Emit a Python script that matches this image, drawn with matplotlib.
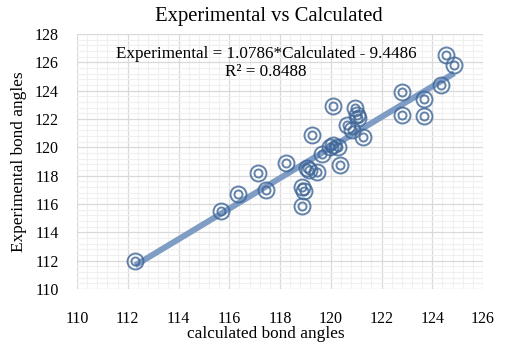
import matplotlib
matplotlib.use("Agg")
import matplotlib.pyplot as plt
from matplotlib.ticker import MultipleLocator
import numpy as np

calculated = [112.29, 115.66, 116.36, 117.15, 117.45, 118.24, 118.85, 118.85, 118.95,
              119.05, 119.15, 119.45, 120.36, 119.64, 119.97, 120.10, 120.30, 121.26,
              119.25, 120.63, 120.83, 120.96, 121.02, 121.09, 120.10, 122.80, 122.80,
              123.67, 123.67, 124.33, 124.53, 124.87]
experimental = [111.98, 115.53, 116.70, 118.21, 116.99, 118.87, 115.86, 117.22, 116.94,
                118.52, 118.40, 118.28, 118.75, 119.53, 120.04, 120.16, 120.04, 120.75,
                120.87, 121.57, 121.22, 122.75, 122.28, 122.05, 122.91, 123.92, 122.28,
                123.41, 122.21, 124.40, 126.51, 125.81]
slope = 1.0786
intercept = -9.4486
r2 = 0.8488

x_ticks = list(range(110, 127, 2))
y_ticks = list(range(110, 129, 2))

plt.rcParams['font.family'] = ['Liberation Serif', 'DejaVu Serif']

fig = plt.figure(figsize=(5.08, 3.52), dpi=100)
ax = fig.add_axes([77/508, 1-289/352, 406/508, 255/352])

ax.set_xlim(110, 126)
ax.set_ylim(110, 128)
ax.xaxis.set_minor_locator(MultipleLocator(0.4))
ax.yaxis.set_minor_locator(MultipleLocator(0.4))
ax.set_xticks(x_ticks)
ax.set_yticks(y_ticks)
ax.grid(which='minor', color='#f0f0f0', linewidth=0.8, zorder=0)
ax.grid(which='major', color='#d9d9d9', linewidth=0.9, zorder=0)
ax.set_axisbelow(True)
for s in ax.spines.values():
    s.set_visible(False)
ax.tick_params(which='both', length=0)
ax.tick_params(axis='x', pad=16, labelsize=11.5)
ax.tick_params(axis='y', pad=13, labelsize=11.5)

# trendline
xs = np.array([min(calculated), max(calculated)])
ax.plot(xs, slope*xs + intercept, color='#7f9cc5', linewidth=4.3, solid_capstyle='butt', zorder=2)

col = '#3d6596'
ax.plot(calculated, experimental, linestyle='none', marker='o', markersize=11.5,
        markerfacecolor='none', markeredgecolor=col, markeredgewidth=1.4, alpha=0.8, zorder=3)
ax.plot(calculated, experimental, linestyle='none', marker='o', markersize=5.8,
        markerfacecolor='none', markeredgecolor=col, markeredgewidth=1.4, alpha=0.8, zorder=3)

fig.text(266/508, 1-63/352, "Experimental = %.4f*Calculated - %.4f\nR² = %.4f" % (slope, -intercept, r2),
         ha='center', va='center', multialignment='center', fontsize=12.3, linespacing=1.15)

fig.text(269/508, 1-16/352, "Experimental vs Calculated", ha='center', va='center', fontsize=14.9)
fig.text(266/508, 1-334/352, "calculated bond angles", ha='center', va='center', fontsize=12.4)
fig.text(19/508, 1-162/352, "Experimental bond angles", ha='center', va='center',
         rotation=90, fontsize=12.4)

fig.savefig("out.png", dpi=100)
